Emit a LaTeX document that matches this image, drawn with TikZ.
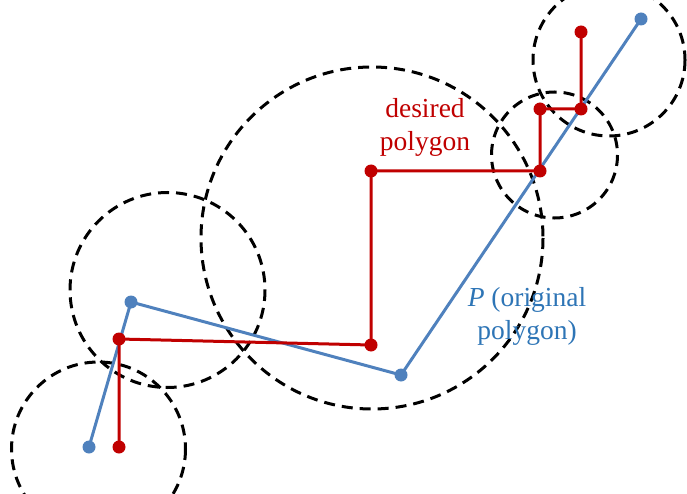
\documentclass[tikz,border=0pt]{standalone}
\usepackage{fontspec}
\setmainfont{Liberation Serif}
\definecolor{pred}{HTML}{C00000}
\definecolor{pblue}{HTML}{4F81BD}
\definecolor{tblue}{HTML}{2E75B6}
\begin{document}
\begin{tikzpicture}[x=1pt,y=-1pt,
  ring/.style={draw=black,line width=3pt,dash pattern=on 11pt off 7pt},
  bline/.style={draw=pblue,line width=3pt},
  rline/.style={draw=pred,line width=3pt},
  bdot/.style={circle,fill=pblue,inner sep=0pt,minimum size=13pt},
  rdot/.style={circle,fill=pred,inner sep=0pt,minimum size=13pt},
  lab/.style={font=\fontsize{27.5}{33}\selectfont,align=center,inner sep=0pt}]
\useasboundingbox (0,0) rectangle (687,494);
\begin{scope}
\clip (0,0) rectangle (687,494);
\draw[ring] (98.5,449) circle (87);
\draw[ring] (167.5,290) circle (97.5);
\draw[ring] (372,238) circle (171);
\draw[ring] (554.5,155) circle (63);
\draw[ring] (609,60) circle (76);
\end{scope}
% blue polygon
\coordinate (b1) at (89,447);
\coordinate (b2) at (131,302);
\coordinate (b3) at (401,375);
\coordinate (b4) at (641,19);
\draw[bline] (b1) -- (b2) -- (b3) -- (b4);
% red polygon
\coordinate (r1) at (119,447);
\coordinate (r2) at (119,339);
\coordinate (r3) at (371,345);
\coordinate (r4) at (371,171);
\coordinate (r5) at (540,171);
\coordinate (r6) at (540,109);
\coordinate (r7) at (581,109);
\coordinate (r8) at (581,32);
\draw[rline] (r1) -- (r2) -- (r3) -- (r4) -- (r5) -- (r6) -- (r7) -- (r8);
\foreach \p in {b1,b2,b3,b4} \node[bdot] at (\p) {};
\foreach \p in {r1,r2,r3,r4,r5,r6,r7,r8} \node[rdot] at (\p) {};
\node[lab,text=pred] (dlab) at (425,127) {desired\\polygon};
\node[lab,text=tblue] (plab) at (527,316) {\textit{P} (original\\polygon)};
\end{tikzpicture}
\end{document}
